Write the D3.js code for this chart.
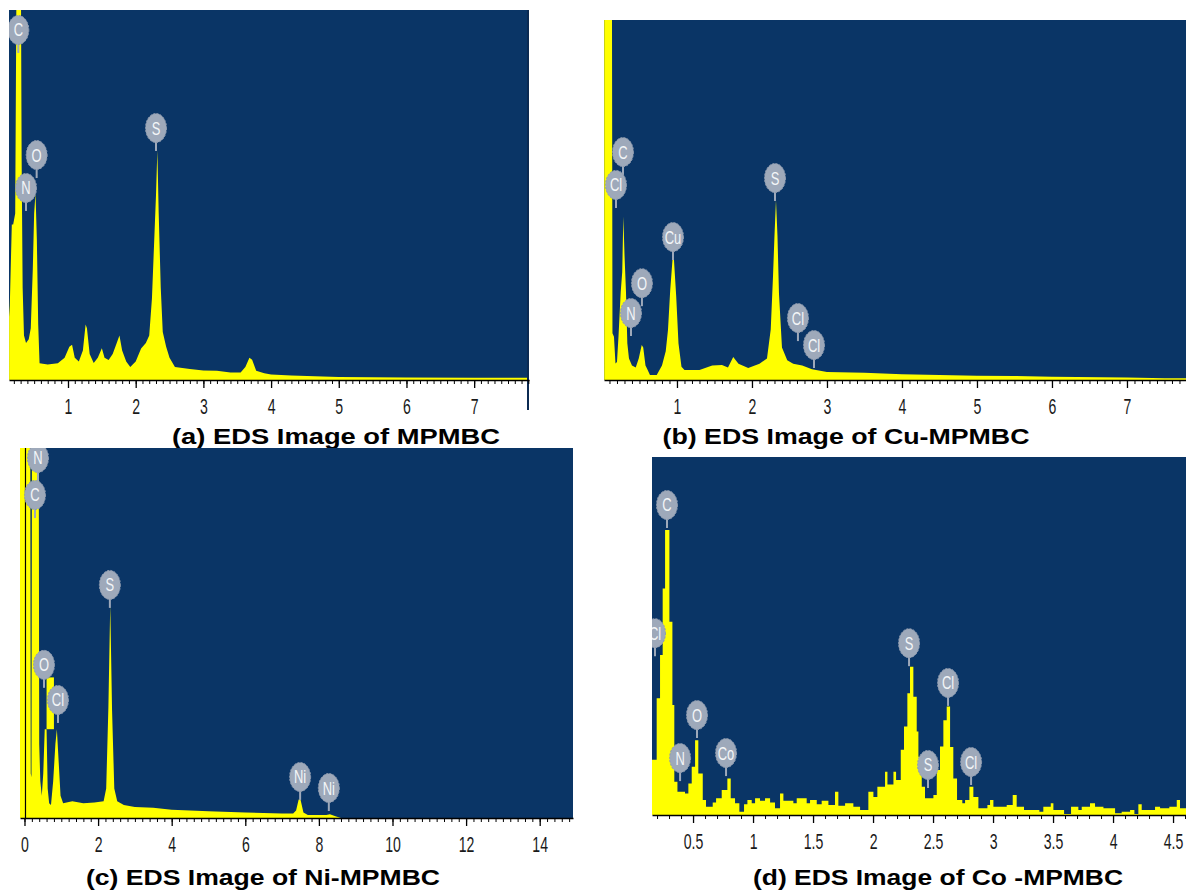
<!DOCTYPE html>
<html>
<head>
<meta charset="utf-8">
<script src="https://cdn.jsdelivr.net/npm/d3@7/dist/d3.min.js"></script>
<style>
  body { margin: 0; background: #fff; }
  svg { display: block; }
  .caption { font-family: "Liberation Sans", Arial, sans-serif; font-weight: bold; font-size: 22px; fill: #000; }
  .tick text { font-family: "Liberation Sans", Arial, sans-serif; font-size: 22px; fill: #1a1a1a; }
  .peakName { font-family: "Liberation Sans", Arial, sans-serif; font-size: 18px; fill: #f4f6f8; }
</style>
</head>
<body>
<div id="chart"></div>
<script>
// ---- (a) MPMBC : energy (keV) and counts (% of full scale)
var aKeV = [0.13, 0.14, 0.17, 0.19, 0.22, 0.235, 0.245, 0.26, 0.30, 0.315, 0.33, 0.35, 0.38, 0.42, 0.45, 0.48, 0.50, 0.52, 0.54, 0.56, 0.58, 0.70, 0.85, 0.95, 1.02, 1.06, 1.10, 1.16, 1.22, 1.26, 1.28, 1.32, 1.38, 1.44, 1.50, 1.54, 1.60, 1.66, 1.72, 1.76, 1.80, 1.86, 1.92, 2.00, 2.08, 2.15, 2.20, 2.24, 2.27, 2.30, 2.32, 2.34, 2.37, 2.40, 2.45, 2.50, 2.58, 2.80, 3.00, 3.20, 3.40, 3.55, 3.62, 3.68, 3.72, 3.78, 3.90, 4.00, 4.30, 5.00, 6.00, 7.00, 7.85];
var aCounts = [17, 20, 42, 42, 45, 95, 130, 130, 130, 60, 25, 12, 10, 11, 14, 30, 45, 50.5, 38, 15, 4.5, 4.2, 4.5, 6, 9, 9.5, 6, 5, 8, 15, 14, 7, 4.6, 6, 8.6, 6, 5.4, 7, 10, 12, 8, 5, 3.5, 5, 8.5, 10, 12, 22, 36, 50, 62, 45, 25, 13, 9, 6, 3.5, 3, 2.6, 2.5, 2, 2, 3.5, 6, 5.5, 2.5, 1.8, 1.5, 1.2, 0.8, 0.7, 0.6, 0.6];
var aNames = ["C", "N", "O", "S"];
var aNameKeV = [0.266, 0.38, 0.537, 2.30];
var aNameLevel = [94.6, 51.9, 60.8, 68.1];
var aTicks = [1, 2, 3, 4, 5, 6, 7];

// ---- (b) Cu-MPMBC
var bKeV = [0.03, 0.13, 0.14, 0.16, 0.18, 0.20, 0.22, 0.25, 0.27, 0.285, 0.30, 0.32, 0.338, 0.36, 0.40, 0.45, 0.49, 0.53, 0.55, 0.58, 0.60, 0.64, 0.73, 0.80, 0.85, 0.88, 0.91, 0.94, 0.96, 0.99, 1.02, 1.06, 1.10, 1.30, 1.47, 1.60, 1.68, 1.75, 1.82, 1.95, 2.10, 2.20, 2.25, 2.28, 2.30, 2.32, 2.34, 2.36, 2.40, 2.47, 2.55, 2.67, 2.80, 3.00, 3.50, 4.00, 4.50, 5.00, 5.50, 6.00, 7.00, 7.50, 7.79];
var bCounts = [150, 150, 13, 12, 4.6, 5, 12, 24.5, 30, 45.4, 35, 24.5, 10.2, 6, 4, 3.5, 6, 9.7, 9, 4, 3.2, 1.4, 1.4, 4, 8, 13.9, 25, 33.3, 33.3, 23.1, 10.2, 3.7, 2.8, 2.8, 4, 4.2, 3.5, 6.4, 4.5, 3.3, 4.5, 6, 14, 28.6, 40, 50, 40, 24, 9, 5.5, 4.5, 4, 3, 2.2, 2, 1.6, 1.4, 1.2, 1.1, 0.9, 0.7, 0.5, 0.5];
var bNames = ["C", "Cl", "Cu", "O", "N", "S", "Cl", "Cl"];
var bNameKeV = [0.28, 0.187, 0.947, 0.533, 0.387, 2.307, 2.613, 2.827];
var bNameLevel = [63.3, 54.2, 39.7, 26.9, 18.6, 56.1, 17.2, 9.7];
var bTicks = [1, 2, 3, 4, 5, 6, 7];

// ---- (c) Ni-MPMBC
var cKeV = [-0.13, 0.15, 0.17, 0.19, 0.21, 0.38, 0.40, 0.43, 0.47, 0.51, 0.55, 0.60, 0.63, 0.67, 0.72, 0.78, 0.84, 0.88, 0.93, 0.98, 1.05, 1.30, 1.60, 1.90, 2.15, 2.22, 2.28, 2.33, 2.38, 2.44, 2.52, 2.70, 3.00, 3.50, 4.00, 5.00, 6.00, 7.00, 7.30, 7.38, 7.45, 7.50, 7.58, 7.70, 8.20, 8.30, 8.45, 8.60, 15.0];
var cCounts = [150, 150, 12, 11, 150, 150, 20, 10, 6, 12, 24, 24, 8, 4, 3.5, 10, 20, 24, 15, 6, 4, 4.5, 4, 4.2, 4.5, 8, 30, 57.6, 29, 8, 4.5, 3.5, 3, 2.8, 2.2, 1.8, 1.5, 1.2, 1.2, 2, 5, 5, 1.5, 0.8, 0.8, 1, 0.5, 0, 0];
var cNames = ["N", "C", "O", "Cl", "S", "Ni", "Ni"];
var cNameKeV = [0.367, 0.285, 0.53, 0.91, 2.32, 7.49, 8.27];
var cNameLevel = [97.3, 87.3, 41.4, 31.9, 63, 11.1, 8.1];
var cTicks = [0, 2, 4, 6, 8, 10, 12, 14];
// region-of-interest bar left above the O peak in (c): keV span and level span
var cRoiKeV = [0.6, 0.8];
var cRoiLevel = [24, 38];

// ---- (d) Co-MPMBC (channel steps)
var dKeV = [0.158, 0.197, 0.225, 0.247, 0.267, 0.303, 0.328, 0.344, 0.37, 0.433, 0.461, 0.489, 0.517, 0.544, 0.581, 0.608, 0.664, 0.692, 0.739, 0.786, 0.814, 0.85, 0.886, 0.925, 0.953, 0.989, 1.017, 1.058, 1.10, 1.142, 1.183, 1.225, 1.253, 1.336, 1.364, 1.447, 1.475, 1.531, 1.572, 1.628, 1.683, 1.711, 1.767, 1.836, 1.892, 1.961, 2.003, 2.036, 2.10, 2.12, 2.17, 2.192, 2.231, 2.258, 2.286, 2.308, 2.336, 2.364, 2.378, 2.406, 2.433, 2.503, 2.531, 2.558, 2.586, 2.614, 2.642, 2.669, 2.70, 2.744, 2.767, 2.803, 2.836, 2.878, 2.953, 2.975, 3.003, 3.114, 3.164, 3.197, 3.258, 3.386, 3.419, 3.481, 3.503, 3.592, 3.65, 3.711, 3.739, 3.808, 3.85, 3.92, 4.017, 4.072, 4.142, 4.178, 4.211, 4.239, 4.35, 4.392, 4.469, 4.531, 4.558, 4.62];
var dCounts = [15.4, 32.6, 44.7, 63.3, 79.6, 54, 30.7, 9.3, 6.5, 6, 8.8, 13.5, 20.9, 11.6, 4.2, 2.3, 3.5, 4.7, 7, 10.2, 4.7, 3.3, 0.9, 3, 4.2, 3.3, 4.7, 4, 4.7, 3.5, 1.9, 6, 4, 3.3, 4.7, 3.3, 4.2, 3, 4, 2.8, 6.5, 2.6, 3.3, 2.3, 1.4, 6.5, 5, 7.9, 12.1, 8.5, 12.1, 9.8, 18.2, 24.7, 34, 41.4, 33, 23.3, 16.3, 7.9, 4.7, 5.6, 12.6, 19.1, 26.5, 30.3, 19, 10.2, 4.2, 3.3, 4.2, 7.9, 5, 1.9, 2.8, 4.2, 2.3, 2.8, 5.6, 2.3, 1.4, 0.9, 2.3, 3.3, 1.4, 0.3, 2.3, 1.4, 2.3, 3.3, 2.3, 1.9, 0.5, 0.9, 1.4, 0.3, 3, 1.4, 2.3, 1.9, 2.3, 4.2, 1.9, 1.9];
var dNames = ["C", "Cl", "N", "O", "Co", "S", "S", "Cl", "Cl"];
var dNameKeV = [0.283, 0.183, 0.392, 0.533, 0.775, 2.30, 2.458, 2.625, 2.817];
var dNameLevel = [86.6, 50.8, 15.9, 27.9, 17.3, 48, 14, 36.9, 14.8];
var dTicks = [0.5, 1, 1.5, 2, 2.5, 3, 3.5, 4, 4.5];

var W = 1186, H = 892;
var navy = "#0a3566", yellow = "#ffff00", bubble = "#9ea9ba";

var svg = d3.select("#chart").append("svg")
  .attr("width", W)
  .attr("height", H);

function zipSpectrum(keV, counts) {
  return keV.map(function(k, i) { return {e: k, c: counts[i]}; });
}

function drawPanel(p) {
  var x = d3.scaleLinear().domain(p.domain).range([p.left, p.right]);
  var y = d3.scaleLinear().domain([0, 100]).range([p.base, p.top]);
  var g = svg.append("g").attr("class", "panel-" + p.id);

  g.append("clipPath").attr("id", "clip-" + p.id)
    .append("rect")
    .attr("x", p.left).attr("y", p.top)
    .attr("width", p.right - p.left).attr("height", p.base - p.top);

  g.append("rect")
    .attr("x", p.left).attr("y", p.top)
    .attr("width", p.right - p.left).attr("height", p.base - p.top)
    .attr("fill", navy);

  var inner = g.append("g").attr("clip-path", "url(#clip-" + p.id + ")");

  var area = d3.area()
    .x(function(d) { return x(d.e); })
    .y0(p.base)
    .y1(function(d) { return y(d.c); })
    .curve(p.curve);
  inner.append("path")
    .datum(zipSpectrum(p.keV, p.counts))
    .attr("fill", yellow)
    .attr("d", area);

  if (p.roiKeV) {
    inner.append("rect")
      .attr("x", x(p.roiKeV[0])).attr("y", y(p.roiLevel[1]))
      .attr("width", x(p.roiKeV[1]) - x(p.roiKeV[0]))
      .attr("height", y(p.roiLevel[0]) - y(p.roiLevel[1]))
      .attr("fill", yellow);
  }

  if (p.zeroLine) {
    inner.append("line")
      .attr("x1", x(0) + 1).attr("x2", x(0) + 1)
      .attr("y1", p.top).attr("y2", p.base)
      .attr("stroke", "#000").attr("stroke-width", 1.2);
  }

  // element markers
  var marks = inner.selectAll("g.mark")
    .data(p.names.map(function(n, i) { return {n: n, e: p.nameKeV[i], h: p.nameLevel[i]}; }))
    .enter().append("g")
    .attr("class", "mark")
    .attr("transform", function(d) { return "translate(" + x(d.e) + "," + y(d.h) + ")"; });
  marks.append("line")
    .attr("x1", 0).attr("x2", 0).attr("y1", 10).attr("y2", 23)
    .attr("stroke", bubble).attr("stroke-width", 2);
  marks.append("ellipse")
    .attr("rx", 10.5).attr("ry", 14.5)
    .attr("fill", bubble)
    .attr("stroke", "#8e9aae").attr("stroke-width", 1)
    .attr("stroke-dasharray", "2,1.5");
  marks.append("text")
    .attr("class", "peakName")
    .attr("text-anchor", "middle")
    .attr("dy", "0.36em")
    .attr("transform", "scale(0.72,1)")
    .text(function(d) { return d.n; });

  if (p.borderRight) {
    g.append("line")
      .attr("x1", p.right - 1).attr("x2", p.right - 1)
      .attr("y1", p.top).attr("y2", p.borderRight)
      .attr("stroke", "#0b2a52").attr("stroke-width", 2);
  }

  // axis: minor then major
  var minor = d3.axisBottom(x)
    .tickValues(d3.range(Math.ceil(p.domain[0] / p.minorStep) * p.minorStep, p.domain[1], p.minorStep))
    .tickSize(4).tickSizeOuter(0).tickFormat("");
  var gMinor = g.append("g").attr("transform", "translate(0," + p.base + ")").call(minor);
  gMinor.select(".domain").attr("stroke", "#000").attr("stroke-width", 1.6);
  gMinor.selectAll(".tick line").attr("stroke", "#000");

  var major = d3.axisBottom(x)
    .tickValues(p.ticks)
    .tickSize(8).tickSizeOuter(0).tickPadding(10)
    .tickFormat(function(d) { return String(d); });
  var gMajor = g.append("g").attr("transform", "translate(0," + p.base + ")").call(major);
  gMajor.select(".domain").remove();
  gMajor.selectAll(".tick line").attr("stroke", "#000").attr("stroke-width", 1.3);
  gMajor.selectAll(".tick text")
    .attr("transform", "scale(0.64,1)")
    .attr("x", 0);

  g.append("text")
    .attr("class", "caption")
    .attr("x", p.capX).attr("y", p.capY)
    .attr("text-anchor", "middle")
    .attr("textLength", p.capLen)
    .attr("lengthAdjust", "spacingAndGlyphs")
    .text(p.caption);
}

drawPanel({
  id: "a", left: 9, top: 10, right: 529, base: 380,
  domain: [0.1285, 7.81], keV: aKeV, counts: aCounts, curve: d3.curveLinear,
  names: aNames, nameKeV: aNameKeV, nameLevel: aNameLevel,
  ticks: aTicks, minorStep: 0.1, borderRight: 410,
  caption: "(a) EDS Image of MPMBC", capX: 336, capY: 444, capLen: 328
});
drawPanel({
  id: "b", left: 604, top: 20, right: 1186, base: 380,
  domain: [0.027, 7.787], keV: bKeV, counts: bCounts, curve: d3.curveLinear,
  names: bNames, nameKeV: bNameKeV, nameLevel: bNameLevel,
  ticks: bTicks, minorStep: 0.1,
  caption: "(b) EDS Image of Cu-MPMBC", capX: 846, capY: 444, capLen: 367
});
drawPanel({
  id: "c", left: 20, top: 448, right: 573, base: 818,
  domain: [-0.122, 14.905], keV: cKeV, counts: cCounts, curve: d3.curveLinear,
  names: cNames, nameKeV: cNameKeV, nameLevel: cNameLevel,
  ticks: cTicks, minorStep: 0.2, zeroLine: true,
  roiKeV: cRoiKeV, roiLevel: cRoiLevel,
  caption: "(c) EDS Image of Ni-MPMBC", capX: 263, capY: 885, capLen: 354
});
drawPanel({
  id: "d", left: 652, top: 457, right: 1186, base: 815,
  domain: [0.158, 4.608], keV: dKeV, counts: dCounts, curve: d3.curveStepAfter,
  names: dNames, nameKeV: dNameKeV, nameLevel: dNameLevel,
  ticks: dTicks, minorStep: 0.1,
  caption: "(d) EDS Image of Co -MPMBC", capX: 938, capY: 885, capLen: 370
});
</script>
</body>
</html>
